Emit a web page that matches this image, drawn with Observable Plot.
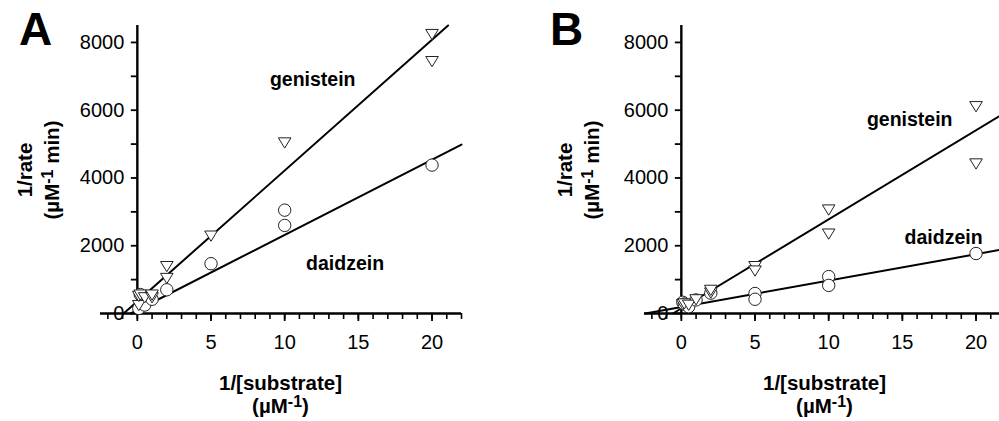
<!DOCTYPE html>
<html>
<head>
<meta charset="utf-8">
<script src="https://cdn.jsdelivr.net/npm/d3@7"></script>
<script src="https://cdn.jsdelivr.net/npm/@observablehq/plot@0.6"></script>
<style>
  html, body { margin: 0; padding: 0; background: white; overflow: hidden; }
  #row { display: flex; flex-direction: row; width: 1088px; }
  svg { display: block; flex: none; }
</style>
</head>
<body>
<div id="row"></div>
<script>
// ---------- data ----------
const xDomain = [-2.5, 22];
const yDomain = [0, 8500];
const xMinorTicks = d3.range(-2, 23, 1);
const xMajorTicks = [0, 5, 10, 15, 20];
const yTicks = [0, 1000, 2000, 3000, 4000, 5000, 6000, 7000, 8000];
const yLabelTicks = [0, 2000, 4000, 6000, 8000];

// Panel A
const genA_x = [0.1, 0.1, 0.2, 0.5, 1, 1, 2, 2, 5, 10, 20, 20];
const genA_y = [250, 520, 560, 480, 480, 560, 1050, 1400, 2300, 5050, 8250, 7450];
const daiA_x = [0.1, 0.2, 0.5, 1, 2, 5, 10, 10, 20];
const daiA_y = [150, 560, 250, 420, 700, 1470, 3050, 2600, 4380];
// fitted lines: [intercept, slope, xStart, xEnd]
const fitGenA = [360, 386, -0.93, 21.09];
const fitDaiA = [100, 222, -0.45, 22];

// Panel B
const genB_x = [0.1, 0.2, 0.5, 1, 2, 2, 5, 5, 10, 10, 20, 20];
const genB_y = [280, 300, 260, 420, 620, 700, 1400, 1270, 3070, 2360, 6120, 4430];
const daiB_x = [0.1, 0.2, 0.5, 1, 2, 5, 5, 10, 10, 20];
const daiB_y = [330, 280, 200, 400, 600, 590, 420, 1090, 830, 1770];
const fitGenB = [150, 263, -0.57, 22];
const fitDaiB = [190, 78, -2.44, 22];

// ---------- layout ----------
const W = 544, H = 421, mL = 100, mR = 83, mT = 25, mB = 108;
const FONT = "'Liberation Sans', Arial, Helvetica, sans-serif";
const TICK_FS = 20, TITLE_FS = 20.5, ANNOT_FS = 19.5;

const triDown = {
  draw(ctx, size) {
    const r = Math.sqrt(size / Math.PI);
    const w = r * 1.05, h = r * 0.95;
    ctx.moveTo(-w, -h * 0.8);
    ctx.lineTo(w, -h * 0.8);
    ctx.lineTo(0, h);
    ctx.closePath();
  }
};

function pts(xs, ys) { return xs.map((x, i) => ({x, y: ys[i]})); }
function fitLine(f) { return [f[2], f[3]].map(x => ({x, y: f[0] + f[1] * x})); }

function panel({gen, dai, fitG, fitD, labels, letter, letterX, ylabX}) {
  const innerW = W - mL - mR;
  const dxAxis = (0 - xDomain[0]) / (xDomain[1] - xDomain[0]) * innerW;
  const svg = Plot.plot({
    width: W, height: H,
    marginLeft: mL, marginRight: mR, marginTop: mT, marginBottom: mB,
    style: {fontFamily: FONT, fontSize: TICK_FS + "px", color: "black", background: "white", overflow: "visible"},
    x: {domain: xDomain},
    y: {domain: yDomain},
    marks: [
      Plot.line(fitLine(fitD), {x: "x", y: "y", stroke: "black", strokeWidth: 2}),
      Plot.line(fitLine(fitG), {x: "x", y: "y", stroke: "black", strokeWidth: 2}),
      Plot.ruleY([0], {stroke: "black", strokeWidth: 2.4}),
      Plot.ruleX([0], {y1: 0, y2: yDomain[1], stroke: "black", strokeWidth: 2.4}),
      Plot.axisX({ticks: xMinorTicks, tickSize: 6, tickFormat: () => "", label: null, strokeWidth: 1.6}),
      Plot.axisX({ticks: xMajorTicks, tickSize: 8, tickPadding: 13, tickFormat: d => String(d), label: null, fontSize: TICK_FS, strokeWidth: 1.8}),
      Plot.axisY({ticks: yTicks, tickSize: 6, tickPadding: 7, dx: dxAxis, label: null, fontSize: TICK_FS, strokeWidth: 1.8,
        tickFormat: d => yLabelTicks.includes(d) ? String(d) : ""}),
      Plot.dot(dai, {x: "x", y: "y", r: 6.2, fill: "white", stroke: "#222", strokeWidth: 1}),
      Plot.dot(gen, {x: "x", y: "y", r: 6, symbol: triDown, fill: "white", stroke: "#222", strokeWidth: 1}),
      Plot.text(labels, {x: "x", y: "y", text: "t", fontWeight: "bold", fontSize: ANNOT_FS, fill: "black"})
    ]
  });
  const s = d3.select(svg);
  // panel letter
  s.append("text").attr("x", letterX).attr("y", 45).attr("text-anchor", "start")
    .attr("font-family", FONT).attr("font-weight", "bold").attr("font-size", 46)
    .text(letter);
  // x-axis title
  const cx = mL + innerW / 2;
  s.append("text").attr("x", cx).attr("y", 390).attr("text-anchor", "middle")
    .attr("font-family", FONT).attr("font-weight", "bold").attr("font-size", TITLE_FS)
    .text("1/[substrate]");
  const t2 = s.append("text").attr("x", cx).attr("y", 413).attr("text-anchor", "middle")
    .attr("font-family", FONT).attr("font-weight", "bold").attr("font-size", TITLE_FS);
  t2.append("tspan").text("(\u00b5M");
  t2.append("tspan").attr("dy", -6).attr("font-size", 16).text("-1");
  t2.append("tspan").attr("dy", 6).text(")");
  // y-axis title
  const cy = 170;
  s.append("text").attr("transform", `translate(${ylabX[0]},${cy}) rotate(-90)`)
    .attr("text-anchor", "middle").attr("dy", "0.35em")
    .attr("font-family", FONT).attr("font-weight", "bold").attr("font-size", TITLE_FS)
    .text("1/rate");
  const y2 = s.append("text").attr("transform", `translate(${ylabX[1]},${cy}) rotate(-90)`)
    .attr("text-anchor", "middle").attr("dy", "0.35em")
    .attr("font-family", FONT).attr("font-weight", "bold").attr("font-size", TITLE_FS);
  y2.append("tspan").text("(\u00b5M");
  y2.append("tspan").attr("dy", -6).attr("font-size", 16).text("-1");
  y2.append("tspan").attr("dy", 6).text(" min)");
  return svg;
}

const row = document.getElementById("row");
row.appendChild(panel({
  gen: pts(genA_x, genA_y), dai: pts(daiA_x, daiA_y),
  fitG: fitGenA, fitD: fitDaiA,
  labels: [{x: 11.9, y: 6900, t: "genistein"}, {x: 14.1, y: 1480, t: "daidzein"}],
  letter: "A", letterX: 19, ylabX: [25, 52]
}));
row.appendChild(panel({
  gen: pts(genB_x, genB_y), dai: pts(daiB_x, daiB_y),
  fitG: fitGenB, fitD: fitDaiB,
  labels: [{x: 15.5, y: 5730, t: "genistein"}, {x: 17.8, y: 2240, t: "daidzein"}],
  letter: "B", letterX: 6, ylabX: [21, 48]
}));
</script>
</body>
</html>
